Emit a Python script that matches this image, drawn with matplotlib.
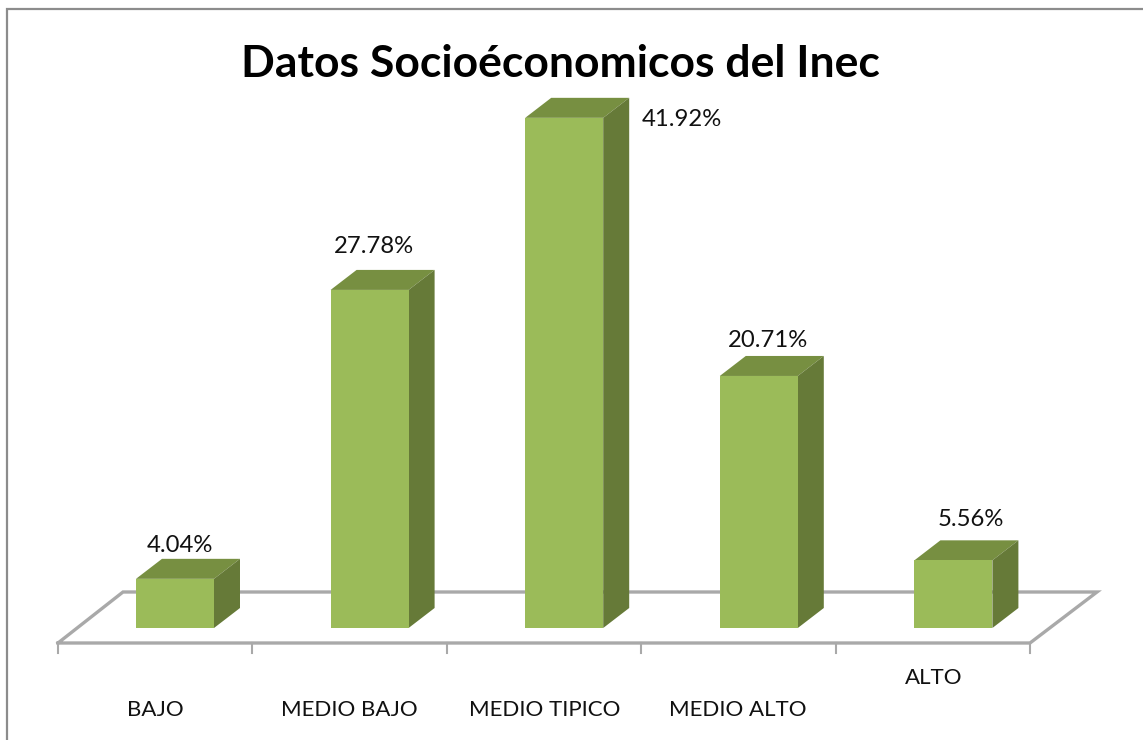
import matplotlib
matplotlib.use('Agg')
import matplotlib.pyplot as plt
from matplotlib.patches import Polygon

categories = ['BAJO', 'MEDIO BAJO', 'MEDIO TIPICO', 'MEDIO ALTO', 'ALTO']
values = [4.04, 27.78, 41.92, 20.71, 5.56]
labels = ['4.04%', '27.78%', '41.92%', '20.71%', '5.56%']

W, H = 1143, 740
x0, xstep = 175, 194.6   # pixel of first bar centre, pixels per category
y0, ystep = 628, 12.17   # pixel of the base, pixels per percent
bar_w = 78 / xstep
dx = 26 / xstep          # depth of the bars
dy = 20 / ystep

plt.rcParams['font.family'] = ['Lato', 'DejaVu Sans']
fig = plt.figure(figsize=(W / 100, H / 100), dpi=100)
ax = fig.add_axes([0, 0, 1, 1])
ax.set_xlim(-x0 / xstep, (W - x0) / xstep)
ax.set_ylim((y0 - H) / ystep, y0 / ystep)
ax.axis('off')

# pixel helpers, only for the furniture (floor, frame, text)
def px(x):
    return (x - x0) / xstep
def py(y):
    return (y0 - y) / ystep

# frame, only left and top are in the picture
ax.plot([px(7), px(7), px(W)], [py(H), py(9), py(9)], color='#8c8c8c', lw=1.6, solid_joinstyle='miter', zorder=1)

# floor
grey = '#a9a9a9'
floor_x = [58, 1030, 1097, 123, 58]
floor_y = [643, 643, 592, 592, 643]
ax.plot([px(a) for a in floor_x], [py(a) for a in floor_y], color=grey, lw=2.4, solid_joinstyle='miter', zorder=1)
for t in [58, 252, 447, 641, 836, 1030]:
    ax.plot([px(t), px(t)], [py(643), py(653)], color=grey, lw=1.5, zorder=1)

# bars
for i, v in enumerate(values):
    l, r = i - bar_w / 2, i + bar_w / 2
    ax.add_patch(Polygon([(l, v), (r, v), (r + dx, v + dy), (l + dx, v + dy)], fc='#778f41', ec='none', zorder=3))
    ax.add_patch(Polygon([(r, 0), (r + dx, dy), (r + dx, v + dy), (r, v)], fc='#667a38', ec='none', zorder=3))
    ax.bar(i, v, bar_w, color='#9bbb59', zorder=4)

# value labels
label_pos = [(180, 545), (374, 246), (682, 119), (768, 340), (971, 519)]
for s, (a, b) in zip(labels, label_pos):
    ax.text(px(a), py(b), s, ha='center', va='center', fontsize=17.2, color='#111111')

# category labels
cat_pos = [(155, 710), (349, 710), (545, 710), (738, 710), (934, 678)]
for s, (a, b) in zip(categories, cat_pos):
    ax.text(px(a), py(b), s, ha='center', va='center', fontsize=16, color='#111111')

ax.text(px(560), py(64), 'Datos Socioéconomicos del Inec', ha='center', va='center', fontsize=32, fontweight='bold', color='black')

fig.savefig('out.png', dpi=100)
